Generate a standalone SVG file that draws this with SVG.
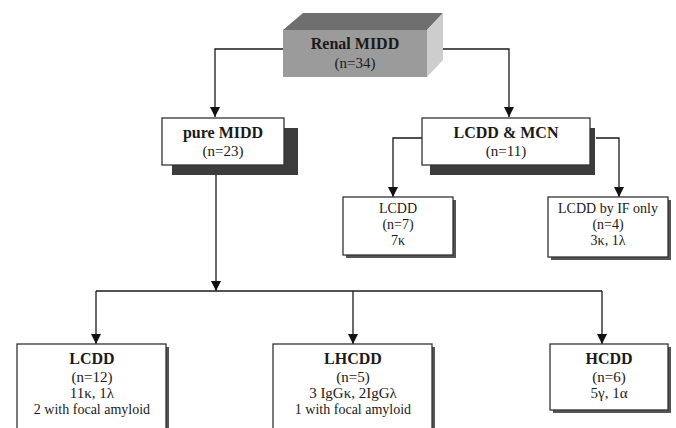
<svg xmlns="http://www.w3.org/2000/svg" width="676" height="428" viewBox="0 0 676 428">
<defs>
<marker id="arr" markerUnits="userSpaceOnUse" markerWidth="10" markerHeight="11" refX="10" refY="5" orient="auto" viewBox="0 0 10 10">
<path d="M0,0 L10,5 L0,10 z" fill="#111"/>
</marker>
<style>
text{font-family:"Liberation Serif","Times New Roman",serif;fill:#1a1a1a;text-anchor:middle}
.b{font-weight:bold;font-size:16px}
.r{font-size:15px}
.s{font-size:14px}
.box{fill:#fff;stroke:#333;stroke-width:1.3}
.sh{fill:#3c3c3c}
.sh2{fill:#555}
.con{fill:none;stroke:#1a1a1a;stroke-width:1.3}
</style>
</defs>
<rect width="676" height="428" fill="#fff"/>

<g id="connectors">
<path class="con" d="M283,49 H215 V117" marker-end="url(#arr)"/>
<path class="con" d="M427,49 H509 V117" marker-end="url(#arr)"/>
<path class="con" d="M422,138 H393 V197" marker-end="url(#arr)"/>
<path class="con" d="M596,138 H619 V197" marker-end="url(#arr)"/>
<path class="con" d="M216,165 V291" marker-end="url(#arr)"/>
<path class="con" d="M96,291 H602"/>
<path class="con" d="M96,291 V344" marker-end="url(#arr)"/>
<path class="con" d="M353,291 V344" marker-end="url(#arr)"/>
<path class="con" d="M602,291 V344" marker-end="url(#arr)"/>
</g>

<g id="renal">
<polygon points="283,30 303,13 443,13 427,30" fill="#6f6f6f"/>
<polygon points="427,30 443,13 443,60 427,77" fill="#cdcdcd"/>
<rect x="283" y="30" width="144" height="47" fill="#9b9b9b"/>
<text class="b" x="355" y="49">Renal MIDD</text>
<text class="r" x="355" y="68">(n=34)</text>
</g>

<g id="pure">
<rect class="sh" x="172" y="128" width="126" height="47"/>
<rect class="box" x="162" y="118" width="122" height="47"/>
<text class="b" x="223" y="138">pure MIDD</text>
<text class="r" x="223" y="156">(n=23)</text>
</g>

<g id="lcddmcn">
<rect class="sh" x="430" y="128" width="165" height="47"/>
<rect class="box" x="422" y="118" width="168" height="47"/>
<text class="b" x="506" y="138">LCDD &amp; MCN</text>
<text class="r" x="506" y="156">(n=11)</text>
</g>

<g id="lcdd7">
<rect class="sh2" x="346" y="200" width="110" height="58"/>
<rect class="box" x="343" y="197" width="110" height="58"/>
<text class="s" x="398" y="213">LCDD</text>
<text class="s" x="398" y="229">(n=7)</text>
<text class="s" x="398" y="245">7κ</text>
</g>

<g id="lcddif">
<rect class="sh2" x="551" y="200" width="120" height="60"/>
<rect class="box" x="548" y="197" width="120" height="60"/>
<text class="s" x="608" y="213">LCDD by IF only</text>
<text class="s" x="608" y="229">(n=4)</text>
<text class="s" x="608" y="245">3κ, 1λ</text>
</g>

<g id="lcdd12">
<rect class="sh2" x="20" y="347" width="149" height="90"/>
<rect class="box" x="17" y="344" width="149" height="90"/>
<text class="b" x="92" y="364">LCDD</text>
<text class="r" x="92" y="382">(n=12)</text>
<text class="r" x="92" y="398">11κ, 1λ</text>
<text class="s" x="92" y="414">2 with focal amyloid</text>
</g>

<g id="lhcdd">
<rect class="sh2" x="276" y="347" width="159" height="90"/>
<rect class="box" x="273" y="344" width="159" height="90"/>
<text class="b" x="353" y="364">LHCDD</text>
<text class="r" x="353" y="382">(n=5)</text>
<text class="r" x="353" y="398">3 IgGκ, 2IgGλ</text>
<text class="s" x="353" y="414">1 with focal amyloid</text>
</g>

<g id="hcdd">
<rect class="sh2" x="553" y="347" width="118" height="66"/>
<rect class="box" x="550" y="344" width="118" height="66"/>
<text class="b" x="609" y="364">HCDD</text>
<text class="r" x="609" y="382">(n=6)</text>
<text class="r" x="609" y="398">5γ, 1α</text>
</g>
</svg>
